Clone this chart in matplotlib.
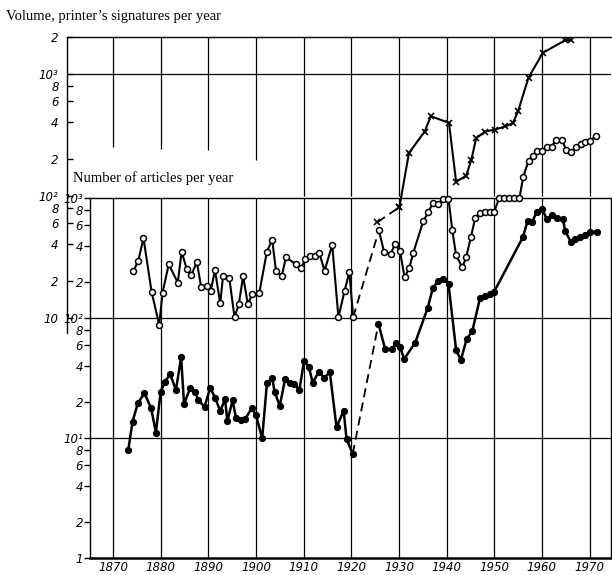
import numpy as np
import matplotlib
matplotlib.use("Agg")
import matplotlib.pyplot as plt
from matplotlib.ticker import NullLocator

plt.rcParams['font.family'] = ['DejaVu Sans']

# volume, open circles (upper scale), before the 1920s gap
vol_years = [1874.3, 1875.3, 1876.4, 1878.1, 1879.7, 1880.4, 1881.7, 1883.6, 1884.4, 1885.5,
             1886.4, 1887.6, 1888.5, 1889.8, 1890.5, 1891.4, 1892.5, 1893.1, 1894.4, 1895.5,
             1896.4, 1897.3, 1898.3, 1899.2, 1900.7, 1902.3, 1903.4, 1904.2, 1905.4, 1906.3,
             1908.3, 1909.5, 1910.3, 1911.3, 1912.3, 1913.3, 1914.4, 1916.0, 1917.3, 1918.6,
             1919.6, 1920.4]
vol_values = [24.2, 29.2, 45.0, 16.3, 8.75, 16.1, 27.4, 19.4, 34.9, 24.9,
              22.4, 28.5, 17.9, 18.2, 16.5, 24.6, 13.1, 22.1, 21.3, 10.1,
              12.9, 21.9, 12.9, 15.6, 16.0, 34.9, 43.5, 24.3, 21.9, 31.3,
              27.5, 25.4, 30.3, 31.8, 31.8, 33.8, 24.3, 39.6, 10.1, 16.6,
              23.7, 10.1]
# volume, open circles, after the gap
vol2_years = [1925.8, 1926.9, 1928.3, 1929.2, 1930.2, 1931.2, 1932.2, 1933.0, 1935.1, 1936.2,
              1937.1, 1938.3, 1939.3, 1940.4, 1941.2, 1942.0, 1943.3, 1944.1, 1945.1, 1946.0,
              1947.0, 1948.1, 1949.1, 1950.0, 1951.0, 1952.1, 1953.2, 1954.2, 1955.3, 1956.1,
              1957.2, 1958.1, 1959.0, 1960.1, 1961.0, 1962.1, 1962.9, 1964.2, 1965.1, 1966.1,
              1967.1, 1968.2, 1969.1, 1970.1, 1971.3]
vol2_values = [52.1, 34.4, 33.6, 40.3, 35.3, 21.4, 25.8, 34.0, 61.8, 73.3,
               87.5, 85.9, 94.4, 94.4, 52.1, 32.4, 25.9, 31.3, 45.8, 65.4,
               72.4, 73.3, 73.8, 73.8, 95.0, 95.7, 96.3, 96.3, 96.3, 143.5,
               193.5, 213, 234, 234, 253, 253, 288, 288, 237, 230,
               249, 266, 274, 279, 311]

# crosses (upper scale)
cross_years = [1925.5, 1930.1, 1932.1, 1935.4, 1936.7, 1940.5, 1942.0, 1944.1, 1945.2, 1946.2,
               1948.1, 1950.2, 1952.3, 1953.9, 1955.0, 1957.2, 1960.2, 1964.9, 1966.1]
cross_values = [60.7, 80.7, 224, 336, 448, 396, 130, 146, 197, 296,
                336, 349, 370, 394, 493, 931, 1483, 1884, 1884]

# number of articles, filled dots (lower scale)
art_years = [1873.2, 1874.1, 1875.2, 1876.6, 1878.0, 1879.0, 1880.0, 1880.9, 1882.0, 1883.2,
             1884.3, 1884.9, 1886.2, 1887.2, 1887.9, 1889.2, 1890.4, 1891.4, 1892.5, 1893.5,
             1894.0, 1895.1, 1895.8, 1896.9, 1897.7, 1899.1, 1900.0, 1901.3, 1902.3, 1903.4,
             1903.9, 1905.0, 1906.1, 1907.1, 1908.0, 1909.1, 1910.1, 1911.1, 1911.9, 1913.2,
             1914.3, 1915.5, 1916.9, 1918.4, 1919.0, 1920.3]
art_values = [7.94, 13.7, 19.5, 23.6, 17.7, 11.1, 24.3, 29.5, 34.0, 25.1,
              47.1, 19.1, 26.2, 24.3, 20.7, 18.2, 26.2, 21.7, 16.8, 21.0,
              13.9, 20.6, 14.7, 14.1, 14.3, 17.7, 15.5, 9.94, 28.6, 31.8,
              24.3, 18.5, 30.9, 28.9, 28.2, 25.1, 44.1, 39.1, 28.9, 35.7,
              31.8, 35.3, 12.3, 16.9, 9.8, 7.38]
art2_years = [1925.7, 1927.1, 1928.5, 1929.4, 1930.2, 1931.1, 1933.4, 1936.0, 1937.1, 1938.3,
              1939.3, 1940.4, 1942.0, 1943.0, 1944.2, 1945.4, 1947.0, 1948.1, 1949.1, 1950.0,
              1956.0, 1957.0, 1958.0, 1958.9, 1960.1, 1961.0, 1962.2, 1963.1, 1964.4, 1964.9,
              1966.1, 1967.0, 1968.0, 1969.1, 1970.1, 1971.5]
art2_values = [89.7, 55.2, 54.8, 62.2, 57.6, 45.5, 62.2, 120, 177, 205,
               211, 191, 54.1, 44.7, 66.6, 77.9, 146, 153, 158, 166,
               471, 643, 635, 769, 805, 668, 721, 677, 668, 531,
               428, 453, 476, 492, 524, 518]

decades = list(range(1870, 1980, 10))
lower_ticks = [1, 2, 4, 6, 8, 10, 20, 40, 60, 80, 100, 200, 400, 600, 800, 1000]
lower_labels = ['1', '2', '4', '6', '8', '10\u00b9', '2', '4', '6', '8',
                '10\u00b2', '2', '4', '6', '8', '10\u00b3']
upper_ticks = [10, 20, 40, 60, 80, 100, 200, 400, 600, 800, 1000, 2000]
upper_labels = ['10', '2', '4', '6', '8', '10\u00b2', '2', '4', '6', '8',
                '10\u00b3', '2']

W, H = 612, 575
fig = plt.figure(figsize=(W / 100, H / 100), dpi=100)

def box(l, t, r, b):
    return [l / W, 1 - b / H, (r - l) / W, (b - t) / H]

ax_lo = fig.add_axes(box(90, 198, 611, 558))
ax_up = fig.add_axes(box(67, 37, 611, 333), zorder=2)
ax_up.patch.set_alpha(0)

# ---- lower plot: number of articles
ax_lo.set_yscale('log')
ax_lo.set_ylim(1, 1000)
ax_lo.set_xlim(1865.17, 1974.5)
ax_lo.yaxis.set_minor_locator(NullLocator())
ax_lo.set_yticks(lower_ticks)
ax_lo.set_yticklabels(lower_labels, fontstyle='italic')
ax_lo.set_xticks(decades)
ax_lo.set_xticklabels([str(d) for d in decades], fontstyle='italic')
ax_lo.tick_params(axis='y', direction='out', length=4, width=1, labelsize=8.5, pad=1)
ax_lo.tick_params(axis='x', length=0, labelsize=8.5, pad=2)
for d in decades:
    ax_lo.axvline(d, color='black', lw=0.9, zorder=1)
for v in [10, 100]:
    ax_lo.axhline(v, color='black', lw=0.9, zorder=1)
for s in ['left', 'top', 'right']:
    ax_lo.spines[s].set_linewidth(1.0)
ax_lo.spines['bottom'].set_linewidth(1.8)

ax_lo.plot(art_years, art_values, '-o', color='black', lw=1.8, ms=4.2, zorder=3)
ax_lo.plot(art2_years, art2_values, '-o', color='black', lw=1.8, ms=4.2, zorder=3)
ax_lo.plot([art_years[-1], art2_years[0]], [art_values[-1], art2_values[0]],
           color='black', lw=1.3, ls=(0, (5, 3)), zorder=3)

# ---- upper plot: volume
ax_up.set_yscale('log')
ax_up.set_ylim(7.5, 2000)
ax_up.set_xlim(1860.35, 1974.5)
ax_up.yaxis.set_minor_locator(NullLocator())
ax_up.set_yticks(upper_ticks)
ax_up.set_yticklabels(upper_labels, fontstyle='italic')
ax_up.tick_params(axis='y', direction='in', length=4, width=1, labelsize=8.5, pad=6)
ax_up.set_xticks([])
ax_up.spines['bottom'].set_visible(False)
ax_up.spines['right'].set_visible(False)
ax_up.spines['left'].set_linewidth(1.0)
ax_up.spines['top'].set_linewidth(1.0)
ax_up.hlines(1000, 1860.35, 1974.5, color='black', lw=0.9)
short_ends = [249, 240, 235, 195]
for i, d in enumerate(decades):
    low = short_ends[i] if i < len(short_ends) else 100
    ax_up.vlines(d, low, 2000, color='black', lw=0.9)

ax_up.plot(vol_years, vol_values, '-o', color='black', lw=1.5, ms=4.3,
           mfc='white', mew=1.1, zorder=3)
ax_up.plot(vol2_years, vol2_values, '-o', color='black', lw=1.5, ms=4.3,
           mfc='white', mew=1.1, zorder=3)
ax_up.plot([vol_years[-1], vol2_years[0]], [vol_values[-1], vol2_values[0]],
           color='black', lw=1.3, ls=(0, (5, 3)), zorder=2)
ax_up.plot(cross_years[1:], cross_values[1:], '-x', color='black', lw=1.5, ms=4.5,
           mew=1.2, zorder=3)
ax_up.plot(cross_years[:2], cross_values[:2], color='black', lw=1.3,
           ls=(0, (5, 3)), marker='x', ms=4.5, mew=1.2, zorder=3)

fig.text(6 / W, 1 - 20 / H, "Volume, printer\u2019s signatures per year",
         family='Liberation Serif', fontsize=10.5, va='baseline', ha='left')
fig.text(73 / W, 1 - 182 / H, "Number of articles per year",
         family='Liberation Serif', fontsize=10.5, va='baseline', ha='left')

fig.savefig('out.png', dpi=100)
